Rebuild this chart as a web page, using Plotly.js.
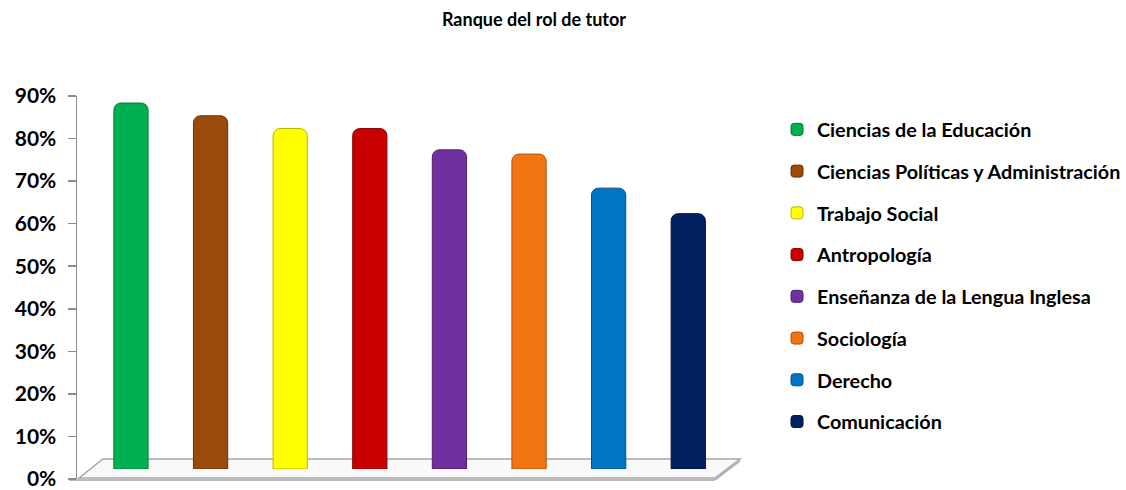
<!DOCTYPE html>
<html>
<head>
<meta charset="utf-8">
<script src="https://cdn.plot.ly/plotly-3.0.1.min.js"></script>
<style>html,body{margin:0;padding:0;background:#fff;}#chart{width:1126px;height:490px;}</style>
</head>
<body>
<div id="chart"></div>
<script>
const categories = [
  "Ciencias de la Educación",
  "Ciencias Políticas y Administración",
  "Trabajo Social",
  "Antropología",
  "Enseñanza de la Lengua Inglesa",
  "Sociología",
  "Derecho",
  "Comunicación"
];
const values = [86, 83, 80, 80, 75, 74, 66, 60];
const colors = ["#00B050", "#9C4A0C", "#FFFF00", "#C80000", "#7030A0", "#F07412", "#0075C4", "#002060"];
const edgeColors = ["#007A38", "#6B3208", "#B8B800", "#8A0000", "#4E2070", "#B05208", "#00508A", "#001238"];
const tickVals = [0, 10, 20, 30, 40, 50, 60, 70, 80, 90];
const tickText = ["0%", "10%", "20%", "30%", "40%", "50%", "60%", "70%", "80%", "90%"];

const FONT = "Lato, 'Open Sans', sans-serif";

const traces = categories.map((c, i) => ({
  type: "bar",
  x: [c],
  y: [values[i]],
  name: c,
  width: 0.43,
  xaxis: "x",
  yaxis: "y2",
  legendgroup: "g" + i,
  marker: {color: colors[i], line: {color: edgeColors[i], width: 1}, cornerradius: 7},
  hoverinfo: "skip"
}));
// empty helper trace so the percentage axis subplot is drawn
traces.push({type: "scatter", x: [], y: [], xaxis: "x", yaxis: "y", showlegend: false, hoverinfo: "skip"});

// plot area: left 77, right 740, top 96, bottom 479
const L = 77, R = 740, T = 96, B = 479;
const W = R - L, H = B - T;
const px = v => (v - L) / W;
const py = v => (B - v) / H;
const depth = 10 / H; // 3D depth offset of the bar plane

const layout = {
  width: 1126,
  height: 490,
  margin: {l: L, r: 1126 - R, t: T, b: 490 - B, pad: 0},
  paper_bgcolor: "#ffffff",
  plot_bgcolor: "rgba(0,0,0,0)",
  font: {family: FONT, color: "#000", size: 16},
  title: {
    text: "<b>Ranque del rol de tutor</b>",
    x: 534 / 1126, xanchor: "center", xref: "container",
    y: 1 - 20 / 490, yanchor: "middle", yref: "container",
    font: {family: FONT, size: 18, color: "#000"}
  },
  barmode: "overlay",
  showlegend: true,
  legend: {
    x: 777 / 1126, xref: "container", xanchor: "left",
    y: 1 - 110 / 490, yref: "container", yanchor: "top",
    font: {family: FONT, size: 19.8, color: "#000", weight: "bold"},
    tracegroupgap: 13,
    itemwidth: 30,
    traceorder: "grouped",
    maxheight: 600,
    bgcolor: "rgba(0,0,0,0)"
  },
  xaxis: {
    type: "category",
    categoryorder: "array",
    categoryarray: categories,
    range: [-0.678, 7.65],
    showticklabels: false,
    showgrid: false,
    zeroline: false,
    showline: false,
    ticks: "",
    fixedrange: true
  },
  yaxis: {
    domain: [0, 1],
    range: [0, 90],
    tickvals: tickVals,
    ticktext: tickText,
    tickfont: {family: FONT, size: 21, color: "#000", weight: "bold"},
    ticks: "outside",
    ticklen: 8,
    tickcolor: "#8c8c8c",
    tickwidth: 1.5,
    ticklabelstandoff: 7,
    ticklabeloverflow: "allow",
    showline: true,
    linecolor: "#8c8c8c",
    linewidth: 1.5,
    showgrid: false,
    zeroline: false,
    anchor: "x",
    fixedrange: true
  },
  yaxis2: {
    domain: [depth, 1],
    range: [0, 90 * (1 - depth)],
    visible: false,
    showgrid: false,
    zeroline: false,
    anchor: "x",
    fixedrange: true
  },
  shapes: [
    {
      type: "path", xref: "paper", yref: "paper", layer: "below",
      path: `M ${px(79)} ${py(478)} L ${px(715)} ${py(478)} L ${px(740)} ${py(459)} L ${px(103)} ${py(459)} Z`,
      fillcolor: "rgba(245,245,245,0.6)",
      line: {color: "#a6a6a6", width: 1.5}
    },
    {
      type: "line", xref: "paper", yref: "paper", layer: "below",
      x0: px(69), y0: py(480), x1: px(715), y1: py(480),
      line: {color: "#a6a6a6", width: 1.5}
    },
    {
      type: "line", xref: "paper", yref: "paper", layer: "below",
      x0: px(715), y0: py(480), x1: px(740), y1: py(461),
      line: {color: "#a6a6a6", width: 1.5}
    }
  ]
};

Plotly.newPlot("chart", traces, layout, {staticPlot: true, displayModeBar: false});
</script>
</body>
</html>
